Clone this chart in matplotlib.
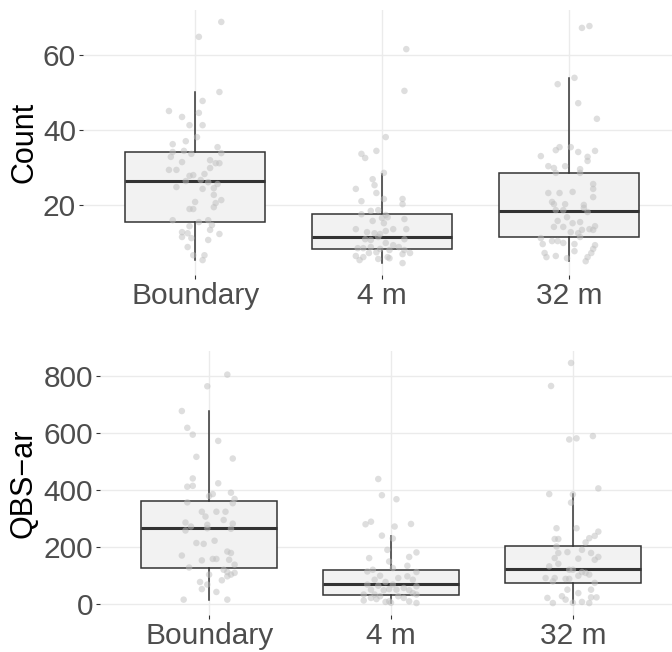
import matplotlib
matplotlib.use("Agg")
import matplotlib.pyplot as plt

plt.rcParams['font.family'] = ['Liberation Sans', 'DejaVu Sans']

groups = ['Boundary', '4 m', '32 m']

# box statistics: whislo, q1, med, q3, whishi
count_stats = [
    [5.1, 15.3, 26.2, 34.1, 50.2],
    [4.3, 8.1, 11.3, 17.4, 28.3],
    [4.8, 11.3, 18.3, 28.5, 54.0],
]
qbs_stats = [
    [14, 126, 267, 361, 677],
    [3, 32, 70, 119, 239],
    [2, 74, 123, 204, 385],
]

# jittered points: horizontal offset from the group centre, value
count_dx_b = [0.14, 0.02, 0.13, 0.04, -0.14, 0.02, -0.07, -0.03, 0.04, 0.01, -0.05, -0.12, 0.12, -0.06, -0.12,
              0.14, -0.02, -0.13, 0.08, -0.07, 0.11, 0.13, 0.08, -0.14, -0.10, -0.01, -0.03, 0.05, 0.03, 0.07,
              -0.05, 0.12, -0.10, 0.10, 0.04, 0.10, 0.14, 0.00, 0.11, 0.10, -0.03, -0.01, -0.12, 0.02, 0.07,
              0.09, -0.03, 0.08, -0.07, -0.04, -0.07, -0.02, 0.13, 0.07, -0.04, -0.01, 0.05, 0.04]
count_b = [69.0, 65.0, 50.2, 47.8, 45.1, 44.6, 43.5, 41.3, 41.3, 38.1, 37.0, 36.2, 35.4, 34.4, 34.1,
           33.8, 33.6, 32.8, 31.9, 31.4, 31.1, 31.1, 29.8, 29.3, 29.3, 27.9, 27.7, 28.2, 26.6, 26.0,
           26.3, 25.5, 24.7, 24.4, 24.2, 22.6, 21.2, 20.7, 20.4, 19.3, 18.8, 18.8, 15.8, 15.3, 15.8,
           14.5, 14.2, 13.2, 12.6, 12.3, 11.3, 11.0, 12.1, 10.5, 8.6, 6.4, 6.4, 5.1]
count_dx_4 = [0.13, 0.12, 0.02, -0.03, -0.11, -0.09, 0.01, -0.05, -0.04, -0.14, -0.03, 0.01, 0.11, 0.11, -0.11,
              -0.06, -0.02, -0.11, 0.02, 0.00, 0.03, 0.12, -0.05, 0.01, -0.14, 0.06, 0.02, 0.13, -0.08, -0.04,
              -0.01, -0.09, -0.06, -0.02, 0.12, 0.02, 0.06, 0.09, -0.13, -0.10, -0.06, -0.01, 0.04, 0.12, -0.03,
              -0.07, 0.15, 0.11, 0.03, -0.14, -0.10, -0.12, -0.02, 0.04, 0.11]
count_4 = [61.7, 50.5, 38.1, 34.4, 33.6, 32.5, 28.5, 26.8, 25.2, 24.2, 23.1, 21.5, 21.5, 20.1, 20.9,
           18.3, 18.5, 17.4, 17.2, 16.4, 16.6, 16.1, 15.6, 15.0, 13.4, 13.4, 12.9, 13.4, 12.6, 12.3,
           12.1, 10.7, 10.5, 11.3, 10.7, 9.7, 9.1, 8.6, 8.3, 8.3, 8.6, 8.1, 7.8, 7.8, 7.2,
           7.0, 7.0, 6.7, 5.9, 6.2, 5.9, 5.1, 5.4, 5.6, 4.3]
count_dx_32 = [0.07, 0.11, 0.03, -0.06, 0.05, 0.15, -0.05, -0.07, 0.01, 0.05, 0.14, -0.15, 0.10, 0.10, -0.11,
               -0.02, -0.08, 0.06, -0.07, 0.06, 0.13, 0.13, 0.13, -0.11, -0.05, 0.02, -0.09, -0.08, -0.02, 0.08,
               -0.07, -0.03, 0.10, 0.08, -0.06, -0.01, 0.02, 0.06, -0.08, -0.03, 0.01, 0.07, 0.11, 0.14, 0.05,
               0.13, -0.15, 0.06, -0.09, -0.06, -0.03, -0.14, 0.03, 0.14, 0.13, -0.13, 0.03, 0.12, -0.12, -0.07,
               -0.01, 0.10, 0.09]
count_32 = [67.4, 67.9, 54.0, 52.3, 47.2, 43.0, 35.4, 34.6, 35.4, 34.1, 34.4, 33.0, 32.8, 31.7, 30.3,
            30.3, 29.8, 29.5, 28.5, 28.5, 25.5, 24.2, 22.0, 23.1, 23.1, 23.4, 20.7, 20.1, 20.1, 19.9,
            18.5, 18.5, 18.0, 19.1, 15.6, 16.6, 15.0, 15.3, 14.0, 14.0, 12.6, 13.2, 13.4, 14.2, 12.3,
            13.2, 11.0, 11.3, 10.2, 10.2, 9.7, 9.4, 9.4, 9.1, 8.1, 7.0, 7.5, 7.0, 5.9, 6.2,
            5.6, 5.9, 4.8]

qbs_dx_b = [0.10, -0.01, -0.15, -0.12, -0.09, 0.05, -0.07, 0.13, -0.09, -0.12, -0.09, 0.05, 0.02, 0.00, 0.12,
            0.14, 0.13, -0.12, -0.04, 0.04, 0.09, -0.02, 0.08, -0.13, 0.13, -0.01, -0.10, -0.01, -0.13, 0.12,
            -0.07, -0.03, 0.03, -0.15, 0.10, 0.12, 0.11, 0.14, -0.04, 0.02, 0.04, -0.11, 0.08, 0.10, 0.12,
            0.14, 0.10, 0.07, 0.00, -0.05, -0.01, -0.04, 0.04, -0.14, 0.10]
qbs_b = [805, 764, 677, 618, 594, 572, 516, 510, 440, 411, 414, 423, 385, 378, 390,
         368, 353, 356, 323, 323, 323, 306, 294, 285, 281, 277, 271, 265, 257, 263,
         213, 210, 221, 169, 183, 178, 154, 137, 152, 157, 157, 127, 119, 111, 102,
         108, 96, 82, 102, 76, 67, 51, 41, 14, 14]
qbs_dx_4 = [-0.07, -0.05, 0.03, -0.14, -0.11, 0.02, 0.11, -0.05, 0.01, -0.02, 0.14, -0.12, 0.10, -0.01, 0.01,
            -0.13, -0.10, 0.09, 0.14, -0.06, 0.04, 0.09, -0.09, -0.03, 0.12, -0.13, -0.07, 0.01, 0.07, 0.14,
            -0.11, -0.04, -0.01, 0.03, 0.10, -0.15, -0.09, -0.06, 0.04, 0.14, -0.15, -0.11, -0.03, -0.01, 0.10,
            0.14, -0.08, 0.07, 0.12, 0.00]
qbs_4 = [438, 381, 367, 279, 288, 271, 280, 239, 229, 189, 180, 160, 164, 148, 125,
         113, 119, 133, 111, 98, 90, 96, 84, 76, 84, 67, 63, 67, 55, 61,
         49, 47, 51, 49, 47, 32, 32, 26, 26, 32, 11, 20, 6, 8, 8,
         2, 16, 20, 37, 3]
qbs_dx_32 = [-0.01, -0.12, -0.02, 0.02, 0.11, -0.13, 0.14, 0.00, -0.01, -0.09, 0.02, 0.14, 0.12, 0.09, -0.10,
             -0.08, 0.07, -0.09, 0.05, -0.03, -0.08, 0.10, 0.14, -0.10, 0.03, 0.12, -0.08, -0.13, -0.02, 0.00,
             0.05, 0.07, 0.09, 0.03, -0.15, -0.10, -0.04, -0.02, -0.11, 0.12, 0.10, -0.03, 0.03, 0.13, 0.10,
             -0.14, -0.06, -0.04, -0.11, 0.00, 0.05, 0.09]
qbs_32 = [846, 765, 577, 581, 589, 385, 405, 384, 355, 265, 265, 253, 238, 230, 227,
          227, 215, 201, 189, 181, 178, 178, 164, 160, 158, 154, 140, 131, 119, 119,
          111, 108, 102, 98, 90, 90, 87, 87, 78, 73, 49, 49, 37, 22, 22,
          20, 26, 14, 2, 3, 6, 2]

count_dx = [count_dx_b, count_dx_4, count_dx_32]
count_vals = [count_b, count_4, count_32]
qbs_dx = [qbs_dx_b, qbs_dx_4, qbs_dx_32]
qbs_vals = [qbs_b, qbs_4, qbs_32]

grid_col = '#EBEBEB'
text_col = '#4D4D4D'


def panel(ax, stats, dxs, vals, ylabel, yticks, ylim, label_x):
    bx = []
    for s in stats:
        bx.append(dict(whislo=s[0], q1=s[1], med=s[2], q3=s[3], whishi=s[4], fliers=[]))
    ax.bxp(bx, positions=range(len(groups)), widths=0.75, showcaps=False, showfliers=False,
           patch_artist=True,
           boxprops=dict(facecolor='#F2F2F2', edgecolor='#333333', linewidth=1.1),
           whiskerprops=dict(color='#333333', linewidth=1.1),
           medianprops=dict(color='#333333', linewidth=2.2),
           zorder=2)
    for i in range(len(groups)):
        xs = [i + d for d in dxs[i]]
        ax.scatter(xs, vals[i], s=22, color='#BEBEBE', alpha=0.5, edgecolors='none', zorder=3)
    ax.set_xlim(-0.6, 2.6)
    ax.set_ylim(*ylim)
    ax.set_xticks(range(len(groups)))
    ax.set_xticklabels(groups)
    ax.set_yticks(yticks)
    ax.grid(True, color=grid_col, linewidth=1.0, zorder=0)
    ax.set_axisbelow(True)
    for sp in ax.spines.values():
        sp.set_visible(False)
    ax.tick_params(colors='#333333', labelcolor=text_col, labelsize=21.5, length=3, width=0.8, pad=2)
    ax.set_ylabel(ylabel, fontsize=22, color='black')
    ax.yaxis.set_label_coords(label_x, 0.5)


fig = plt.figure(figsize=(6.72, 6.52), dpi=100)
ax1 = fig.add_axes([83 / 672, 1 - 275 / 652, 598 / 672, 265 / 652])
ax2 = fig.add_axes([100 / 672, 1 - 615 / 652, 582 / 672, 264 / 652])

panel(ax1, count_stats, count_dx, count_vals, 'Count', [20, 40, 60], (1.1, 72.2), -0.073)
panel(ax2, qbs_stats, qbs_dx, qbs_vals, 'QBS\u2212ar', [0, 200, 400, 600, 800], (-40, 888), -0.105)

fig.savefig('out.png', dpi=100)
